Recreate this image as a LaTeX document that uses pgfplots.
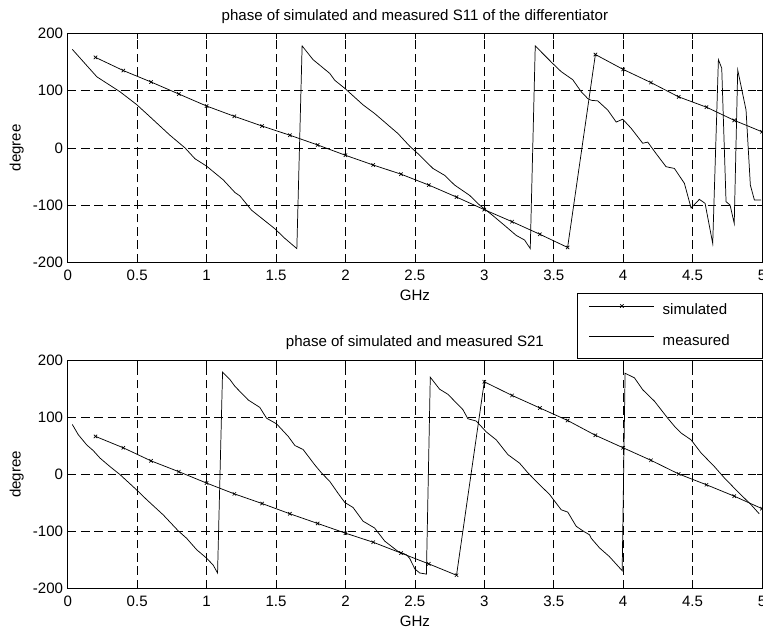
\documentclass[border=0pt]{standalone}
\usepackage{fontspec}
\setmainfont{Liberation Sans}
\usepackage{pgfplots}
\pgfplotsset{compat=1.18}
\newcommand\myfont{\fontsize{11.3}{13}\selectfont}

\pgfplotstableread{
x y
0.2 158
0.4 135
0.6 115
0.8 94
1.0 73
1.2 55
1.4 38
1.6 22
1.8 5
2.0 -13
2.2 -30
2.4 -46
2.6 -65
2.8 -86
3.0 -108
3.2 -129
3.4 -151
3.6 -174
3.8 163
4.0 137
4.2 114
4.4 89
4.6 71
4.8 48
5.0 28
}\simA

\pgfplotstableread{
x y
0.033 172
0.125 147
0.21 124
0.376 98
0.494 76
0.58 57
0.736 22
0.844 0
0.916 -19
1.0 -32
1.12 -56
1.204 -78
1.24 -84
1.324 -109
1.49 -141
1.563 -158
1.65 -176
1.688 178
1.767 154
1.887 130
1.923 118
1.995 104
2.127 75
2.21 60
2.306 40
2.378 25
2.462 3
2.535 -13
2.63 -36
2.714 -48
2.786 -65
2.894 -83
2.966 -100
3.06 -118
3.158 -138
3.23 -153
3.29 -161
3.331 -176
3.367 178
3.42 165
3.494 147
3.554 133
3.637 119
3.698 98
3.722 92
3.745 86
3.77 83
3.817 82
3.889 66
3.95 45
3.997 50
4.058 34
4.141 8
4.177 10
4.237 -10
4.309 -33
4.369 -36
4.441 -62
4.489 -105
4.549 -90
4.59 -97
4.645 -167
4.686 154
4.71 139
4.741 -94
4.77 -100
4.8 -132
4.825 136
4.885 66
4.916 -65
4.945 -91
4.993 -91
}\measA

\pgfplotstableread{
x y
0.2 67
0.4 47
0.6 24
0.8 5
1.0 -15
1.2 -34
1.4 -51
1.6 -69
1.8 -86
2.0 -103
2.2 -119
2.4 -138
2.6 -157
2.8 -177
3.0 163
3.2 139
3.4 117
3.6 95
3.8 69
4.0 47
4.2 25
4.4 1
4.6 -18
4.8 -38
5.0 -60
}\simB

\pgfplotstableread{
x y
0.033 88
0.076 70
0.137 52
0.184 42
0.232 29
0.304 14
0.376 0
0.496 -27
0.568 -44
0.688 -71
0.796 -99
0.856 -112
0.928 -132
1.0 -147
1.047 -159
1.079 -173
1.115 180
1.168 167
1.204 155
1.228 149
1.3 131
1.383 118
1.432 99
1.504 89
1.588 67
1.636 51
1.695 44
1.779 17
1.827 3
1.887 -12
1.947 -33
1.995 -49
2.055 -58
2.127 -82
2.21 -94
2.283 -117
2.378 -135
2.439 -141
2.462 -147
2.5 -166
2.535 -173
2.583 -175
2.611 171
2.678 150
2.738 141
2.798 126
2.846 114
2.882 98
2.942 94
3.014 75
3.086 61
3.17 35
3.254 20
3.314 3
3.386 -15
3.47 -35
3.554 -62
3.601 -66
3.662 -91
3.71 -99
3.758 -106
3.77 -112
3.83 -129
3.9 -144
3.993 -169
4.014 178
4.081 170
4.141 149
4.225 129
4.321 99
4.369 85
4.417 73
4.489 61
4.561 38
4.657 14
4.729 -6
4.825 -30
4.921 -53
4.98 -69
}\measB

\pgfplotsset{
  mystyle/.style={
    scale only axis, width=520.7pt,
    xmin=0, xmax=5, ymin=-200, ymax=200,
    xtick={0,0.5,1,1.5,2,2.5,3,3.5,4,4.5,5},
    xticklabels={0,0.5,1,1.5,2,2.5,3,3.5,4,4.5,5},
    ytick={-200,-100,0,100,200},
    yticklabels={-200,-100,0,100,200},
    grid=major,
    major grid style={black, line width=0.4pt, dash pattern=on 6.5pt off 3.5pt},
    tick align=inside, major tick length=4pt,
    tick style={black, line width=0.4pt},
    xtick pos=both, ytick pos=both,
    axis line style={line width=0.6pt},
    ticklabel style={font=\myfont},
    label style={font=\myfont},
    title style={font=\myfont},
    xticklabel style={anchor=base, yshift=-13.5pt},
    xlabel=GHz, ylabel=degree,
    xlabel style={at={(axis description cs:0.5,0)}, anchor=base, yshift=-28.3pt},
    ylabel style={at={(axis description cs:-0.0735,0.5)}, anchor=center},
    every axis plot/.append style={black, line width=0.55pt},
    legend image code/.code={\draw[mark repeat=2,mark phase=2,#1] plot coordinates {(0pt,3.5pt) (24.4pt,3.5pt) (48.75pt,3.5pt)};},
  },
  simstyle/.style={mark=x, mark size=1.8pt, mark options={solid, line width=0.5pt}},
}

\begin{document}
\begin{tikzpicture}
\path[use as bounding box] (0,0) rectangle (572.25pt,473.25pt);
\begin{axis}[mystyle, height=171.75pt,
  at={(50.8pt,276.5pt)}, anchor=south west,
  title={phase of simulated and measured S11 of the differentiator},
  title style={at={(axis description cs:0.5,1)}, anchor=base, yshift=3.5pt},
  legend style={at={(axis description cs:1.0015,-0.134)}, anchor=north east,
    draw=black, line width=0.5pt, fill=white, font=\myfont,
    inner xsep=9pt, inner ysep=8pt, row sep=13pt, column sep=6pt,
    nodes={inner sep=0pt, text height=7.8pt, text depth=2.2pt}},
  legend cell align=left,
]
\addplot[simstyle] table {\simA};
\addlegendentry{\makebox[66pt][l]{simulated}}
\addplot[no marks] table {\measA};
\addlegendentry{\makebox[66pt][l]{measured}}
\end{axis}
\begin{axis}[mystyle, height=170.7pt,
  at={(50.8pt,32.0pt)}, anchor=south west,
  title={phase of simulated and measured S21},
  title style={at={(axis description cs:0.5,1)}, anchor=base, yshift=5pt},
]
\addplot[simstyle] table {\simB};
\addplot[no marks] table {\measB};
\end{axis}
\end{tikzpicture}
\end{document}
